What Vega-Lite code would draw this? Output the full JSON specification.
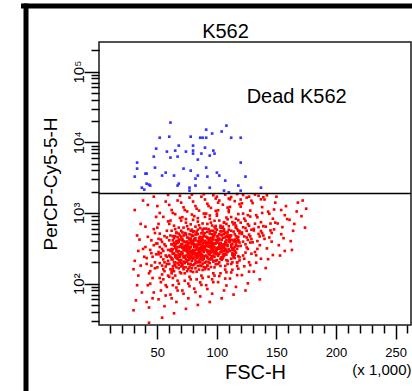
{
"$schema":"https://vega.github.io/schema/vega-lite/v6.json",
"width":312,"height":283,
"autosize":{"type":"none"},
"padding":{"left":99,"top":42,"right":1,"bottom":66},
"background":"white",
"config":{"view":{"stroke":"#1a1a1a","strokeWidth":1.5},"font":"Liberation Sans"},
"datasets":{
"live":[
{"fsc":31,"percp":210},{"fsc":33,"percp":95},{"fsc":35,"percp":420},{"fsc":30,"percp":160},{"fsc":38,"percp":310},{"fsc":32,"percp":58},{"fsc":36,"percp":700},{"fsc":34,"percp":130},{"fsc":39,"percp":240},{"fsc":31,"percp":1100},{"fsc":37,"percp":75},{"fsc":33,"percp":480},{"fsc":30,"percp":42},{"fsc":36,"percp":180},{"fsc":38,"percp":1500},{"fsc":34,"percp":290},
{"fsc":41,"percp":230},{"fsc":44,"percp":150},{"fsc":47,"percp":350},{"fsc":42,"percp":95},{"fsc":48,"percp":520},{"fsc":45,"percp":180},{"fsc":43,"percp":28},{"fsc":49,"percp":260},{"fsc":46,"percp":120},{"fsc":40,"percp":640},{"fsc":44,"percp":300},{"fsc":47,"percp":75},{"fsc":42,"percp":1300},{"fsc":48,"percp":200},{"fsc":45,"percp":410},{"fsc":41,"percp":55},{"fsc":49,"percp":880},{"fsc":46,"percp":240},{"fsc":43,"percp":140},{"fsc":47,"percp":1700},{"fsc":40,"percp":330},{"fsc":44,"percp":100},{"fsc":48,"percp":165},{"fsc":42,"percp":460},{"fsc":46,"percp":62},{"fsc":49,"percp":370},{"fsc":45,"percp":270},{"fsc":41,"percp":190},{"fsc":43,"percp":46},{"fsc":47,"percp":590},
{"fsc":51,"percp":260},{"fsc":54,"percp":180},{"fsc":57,"percp":340},{"fsc":52,"percp":120},{"fsc":58,"percp":450},{"fsc":55,"percp":220},{"fsc":53,"percp":80},{"fsc":59,"percp":300},{"fsc":56,"percp":150},{"fsc":50,"percp":620},{"fsc":54,"percp":390},{"fsc":57,"percp":95},{"fsc":52,"percp":1000},{"fsc":58,"percp":240},{"fsc":55,"percp":290},{"fsc":51,"percp":60},{"fsc":59,"percp":760},{"fsc":56,"percp":200},{"fsc":53,"percp":420},{"fsc":57,"percp":1450},{"fsc":50,"percp":170},{"fsc":54,"percp":135},{"fsc":58,"percp":560},{"fsc":52,"percp":330},{"fsc":56,"percp":48},{"fsc":59,"percp":210},{"fsc":55,"percp":880},{"fsc":51,"percp":280},{"fsc":53,"percp":105},{"fsc":57,"percp":250},{"fsc":50,"percp":370},{"fsc":54,"percp":33},{"fsc":58,"percp":190},{"fsc":52,"percp":510},{"fsc":56,"percp":360},{"fsc":59,"percp":130},{"fsc":55,"percp":160},{"fsc":51,"percp":700},{"fsc":53,"percp":240},{"fsc":57,"percp":68},{"fsc":50,"percp":1250},{"fsc":54,"percp":310},{"fsc":58,"percp":90},{"fsc":52,"percp":195},{"fsc":56,"percp":470},{"fsc":59,"percp":1800},{"fsc":55,"percp":115},{"fsc":51,"percp":430},{"fsc":53,"percp":270},{"fsc":57,"percp":175},
{"fsc":61,"percp":290},{"fsc":64,"percp":200},{"fsc":67,"percp":380},{"fsc":62,"percp":140},{"fsc":68,"percp":510},{"fsc":65,"percp":250},{"fsc":63,"percp":95},{"fsc":69,"percp":330},{"fsc":66,"percp":170},{"fsc":60,"percp":700},{"fsc":64,"percp":440},{"fsc":67,"percp":110},{"fsc":62,"percp":1100},{"fsc":68,"percp":260},{"fsc":65,"percp":320},{"fsc":61,"percp":70},{"fsc":69,"percp":850},{"fsc":66,"percp":230},{"fsc":63,"percp":470},{"fsc":67,"percp":1500},{"fsc":60,"percp":190},{"fsc":64,"percp":150},{"fsc":68,"percp":620},{"fsc":62,"percp":360},{"fsc":66,"percp":55},{"fsc":69,"percp":240},{"fsc":65,"percp":960},{"fsc":61,"percp":300},{"fsc":63,"percp":120},{"fsc":67,"percp":280},{"fsc":60,"percp":410},{"fsc":64,"percp":38},{"fsc":68,"percp":215},{"fsc":62,"percp":560},{"fsc":66,"percp":400},{"fsc":69,"percp":145},{"fsc":65,"percp":185},{"fsc":61,"percp":780},{"fsc":63,"percp":265},{"fsc":67,"percp":80},{"fsc":60,"percp":1300},{"fsc":64,"percp":345},{"fsc":68,"percp":100},{"fsc":62,"percp":220},{"fsc":66,"percp":530},{"fsc":69,"percp":1750},{"fsc":65,"percp":130},{"fsc":61,"percp":480},{"fsc":63,"percp":305},{"fsc":67,"percp":195},{"fsc":60,"percp":250},{"fsc":64,"percp":660},{"fsc":68,"percp":165},{"fsc":62,"percp":290},{"fsc":66,"percp":88},{"fsc":69,"percp":420},{"fsc":65,"percp":355},{"fsc":61,"percp":160},{"fsc":63,"percp":1000},{"fsc":67,"percp":230},{"fsc":60,"percp":125},{"fsc":64,"percp":270},{"fsc":68,"percp":390},{"fsc":62,"percp":62},{"fsc":66,"percp":310},{"fsc":69,"percp":205},{"fsc":65,"percp":590},{"fsc":61,"percp":240},{"fsc":63,"percp":175},{"fsc":67,"percp":455},
{"fsc":71,"percp":320},{"fsc":74,"percp":225},{"fsc":77,"percp":420},{"fsc":72,"percp":160},{"fsc":78,"percp":560},{"fsc":75,"percp":280},{"fsc":73,"percp":110},{"fsc":79,"percp":370},{"fsc":76,"percp":190},{"fsc":70,"percp":780},{"fsc":74,"percp":490},{"fsc":77,"percp":125},{"fsc":72,"percp":1200},{"fsc":78,"percp":290},{"fsc":75,"percp":355},{"fsc":71,"percp":80},{"fsc":79,"percp":950},{"fsc":76,"percp":260},{"fsc":73,"percp":520},{"fsc":77,"percp":1650},{"fsc":70,"percp":215},{"fsc":74,"percp":170},{"fsc":78,"percp":690},{"fsc":72,"percp":400},{"fsc":76,"percp":62},{"fsc":79,"percp":270},{"fsc":75,"percp":1050},{"fsc":71,"percp":335},{"fsc":73,"percp":140},{"fsc":77,"percp":310},{"fsc":70,"percp":460},{"fsc":74,"percp":44},{"fsc":78,"percp":240},{"fsc":72,"percp":620},{"fsc":76,"percp":445},{"fsc":79,"percp":165},{"fsc":75,"percp":205},{"fsc":71,"percp":870},{"fsc":73,"percp":295},{"fsc":77,"percp":92},{"fsc":70,"percp":1400},{"fsc":74,"percp":385},{"fsc":78,"percp":115},{"fsc":72,"percp":245},{"fsc":76,"percp":590},{"fsc":79,"percp":1820},{"fsc":75,"percp":150},{"fsc":71,"percp":530},{"fsc":73,"percp":340},{"fsc":77,"percp":220},{"fsc":70,"percp":280},{"fsc":74,"percp":730},{"fsc":78,"percp":185},{"fsc":72,"percp":325},{"fsc":76,"percp":100},{"fsc":79,"percp":470},{"fsc":75,"percp":395},{"fsc":71,"percp":180},{"fsc":73,"percp":1100},{"fsc":77,"percp":255},{"fsc":70,"percp":140},{"fsc":74,"percp":300},{"fsc":78,"percp":435},{"fsc":72,"percp":72},{"fsc":76,"percp":345},{"fsc":79,"percp":230},{"fsc":75,"percp":650},{"fsc":71,"percp":265},{"fsc":73,"percp":195},{"fsc":77,"percp":500},{"fsc":70,"percp":360},{"fsc":74,"percp":250},{"fsc":78,"percp":330},{"fsc":72,"percp":205},{"fsc":76,"percp":290},{"fsc":79,"percp":580},{"fsc":75,"percp":310},{"fsc":71,"percp":410},{"fsc":73,"percp":235},{"fsc":77,"percp":375},{"fsc":70,"percp":175},{"fsc":74,"percp":820},{"fsc":78,"percp":150},{"fsc":72,"percp":480},{"fsc":76,"percp":215},
{"fsc":81,"percp":330},{"fsc":84,"percp":235},{"fsc":87,"percp":430},{"fsc":82,"percp":165},{"fsc":88,"percp":580},{"fsc":85,"percp":290},{"fsc":83,"percp":115},{"fsc":89,"percp":380},{"fsc":86,"percp":200},{"fsc":80,"percp":800},{"fsc":84,"percp":505},{"fsc":87,"percp":130},{"fsc":82,"percp":1250},{"fsc":88,"percp":300},{"fsc":85,"percp":365},{"fsc":81,"percp":85},{"fsc":89,"percp":980},{"fsc":86,"percp":270},{"fsc":83,"percp":540},{"fsc":87,"percp":1700},{"fsc":80,"percp":225},{"fsc":84,"percp":178},{"fsc":88,"percp":710},{"fsc":82,"percp":410},{"fsc":86,"percp":66},{"fsc":89,"percp":280},{"fsc":85,"percp":1080},{"fsc":81,"percp":345},{"fsc":83,"percp":148},{"fsc":87,"percp":320},{"fsc":80,"percp":475},{"fsc":84,"percp":50},{"fsc":88,"percp":250},{"fsc":82,"percp":640},{"fsc":86,"percp":460},{"fsc":89,"percp":172},{"fsc":85,"percp":212},{"fsc":81,"percp":900},{"fsc":83,"percp":305},{"fsc":87,"percp":96},{"fsc":80,"percp":1450},{"fsc":84,"percp":398},{"fsc":88,"percp":120},{"fsc":82,"percp":255},{"fsc":86,"percp":610},{"fsc":89,"percp":1840},{"fsc":85,"percp":158},{"fsc":81,"percp":550},{"fsc":83,"percp":352},{"fsc":87,"percp":230},{"fsc":80,"percp":290},{"fsc":84,"percp":755},{"fsc":88,"percp":192},{"fsc":82,"percp":338},{"fsc":86,"percp":104},{"fsc":89,"percp":485},{"fsc":85,"percp":408},{"fsc":81,"percp":188},{"fsc":83,"percp":1150},{"fsc":87,"percp":265},{"fsc":80,"percp":146},{"fsc":84,"percp":312},{"fsc":88,"percp":450},{"fsc":82,"percp":76},{"fsc":86,"percp":358},{"fsc":89,"percp":240},{"fsc":85,"percp":670},{"fsc":81,"percp":275},{"fsc":83,"percp":203},{"fsc":87,"percp":515},{"fsc":80,"percp":372},{"fsc":84,"percp":262},{"fsc":88,"percp":342},{"fsc":82,"percp":213},{"fsc":86,"percp":300},{"fsc":89,"percp":600},{"fsc":85,"percp":322},{"fsc":81,"percp":425},{"fsc":83,"percp":244},{"fsc":87,"percp":388},{"fsc":80,"percp":182},{"fsc":84,"percp":845},{"fsc":88,"percp":156},{"fsc":82,"percp":495},{"fsc":86,"percp":222},{"fsc":85,"percp":280},{"fsc":83,"percp":330},{"fsc":87,"percp":178},{"fsc":81,"percp":360},{"fsc":89,"percp":318},
{"fsc":91,"percp":360},{"fsc":94,"percp":255},{"fsc":97,"percp":470},{"fsc":92,"percp":180},{"fsc":98,"percp":630},{"fsc":95,"percp":320},{"fsc":93,"percp":125},{"fsc":99,"percp":415},{"fsc":96,"percp":220},{"fsc":90,"percp":880},{"fsc":94,"percp":550},{"fsc":97,"percp":140},{"fsc":92,"percp":1350},{"fsc":98,"percp":330},{"fsc":95,"percp":400},{"fsc":91,"percp":95},{"fsc":99,"percp":1070},{"fsc":96,"percp":295},{"fsc":93,"percp":590},{"fsc":97,"percp":1780},{"fsc":90,"percp":245},{"fsc":94,"percp":195},{"fsc":98,"percp":775},{"fsc":92,"percp":450},{"fsc":96,"percp":72},{"fsc":99,"percp":305},{"fsc":95,"percp":1180},{"fsc":91,"percp":378},{"fsc":93,"percp":160},{"fsc":97,"percp":350},{"fsc":90,"percp":520},{"fsc":94,"percp":55},{"fsc":98,"percp":272},{"fsc":92,"percp":700},{"fsc":96,"percp":500},{"fsc":99,"percp":188},{"fsc":95,"percp":232},{"fsc":91,"percp":980},{"fsc":93,"percp":332},{"fsc":97,"percp":105},{"fsc":90,"percp":1550},{"fsc":94,"percp":435},{"fsc":98,"percp":130},{"fsc":92,"percp":280},{"fsc":96,"percp":665},{"fsc":99,"percp":1600},{"fsc":95,"percp":172},{"fsc":91,"percp":600},{"fsc":93,"percp":385},{"fsc":97,"percp":250},{"fsc":90,"percp":318},{"fsc":94,"percp":825},{"fsc":98,"percp":210},{"fsc":92,"percp":368},{"fsc":96,"percp":115},{"fsc":99,"percp":530},{"fsc":95,"percp":445},{"fsc":91,"percp":205},{"fsc":93,"percp":1250},{"fsc":97,"percp":290},{"fsc":90,"percp":160},{"fsc":94,"percp":340},{"fsc":98,"percp":492},{"fsc":92,"percp":84},{"fsc":96,"percp":390},{"fsc":99,"percp":262},{"fsc":95,"percp":730},{"fsc":91,"percp":300},{"fsc":93,"percp":222},{"fsc":97,"percp":560},{"fsc":90,"percp":405},{"fsc":94,"percp":286},{"fsc":98,"percp":372},{"fsc":92,"percp":232},{"fsc":96,"percp":328},{"fsc":99,"percp":655},{"fsc":95,"percp":350},{"fsc":91,"percp":462},{"fsc":93,"percp":266},{"fsc":97,"percp":422},{"fsc":90,"percp":198},{"fsc":94,"percp":920},{"fsc":98,"percp":170},{"fsc":92,"percp":540},{"fsc":96,"percp":242},
{"fsc":101,"percp":400},{"fsc":104,"percp":285},{"fsc":107,"percp":525},{"fsc":102,"percp":200},{"fsc":108,"percp":700},{"fsc":105,"percp":355},{"fsc":103,"percp":140},{"fsc":109,"percp":460},{"fsc":106,"percp":245},{"fsc":100,"percp":980},{"fsc":104,"percp":615},{"fsc":107,"percp":158},{"fsc":102,"percp":1500},{"fsc":108,"percp":370},{"fsc":105,"percp":445},{"fsc":101,"percp":105},{"fsc":109,"percp":1190},{"fsc":106,"percp":330},{"fsc":103,"percp":660},{"fsc":107,"percp":1820},{"fsc":100,"percp":272},{"fsc":104,"percp":218},{"fsc":108,"percp":860},{"fsc":102,"percp":500},{"fsc":106,"percp":80},{"fsc":109,"percp":340},{"fsc":105,"percp":1310},{"fsc":101,"percp":420},{"fsc":103,"percp":178},{"fsc":107,"percp":392},{"fsc":100,"percp":580},{"fsc":104,"percp":62},{"fsc":108,"percp":302},{"fsc":102,"percp":780},{"fsc":106,"percp":555},{"fsc":109,"percp":210},{"fsc":105,"percp":258},{"fsc":101,"percp":1090},{"fsc":103,"percp":370},{"fsc":107,"percp":118},{"fsc":100,"percp":1700},{"fsc":104,"percp":485},{"fsc":108,"percp":145},{"fsc":102,"percp":312},{"fsc":106,"percp":740},{"fsc":109,"percp":190},{"fsc":105,"percp":640},{"fsc":101,"percp":428},{"fsc":103,"percp":280},{"fsc":107,"percp":354},{"fsc":100,"percp":915},{"fsc":104,"percp":234},{"fsc":108,"percp":410},{"fsc":102,"percp":128},{"fsc":106,"percp":590},{"fsc":109,"percp":495},{"fsc":105,"percp":228},{"fsc":101,"percp":1400},{"fsc":103,"percp":322},{"fsc":107,"percp":178},{"fsc":100,"percp":380},{"fsc":104,"percp":548},{"fsc":108,"percp":94},{"fsc":102,"percp":434},{"fsc":106,"percp":292},{"fsc":109,"percp":812},{"fsc":105,"percp":334},{"fsc":101,"percp":248},{"fsc":103,"percp":622},{"fsc":107,"percp":450},{"fsc":100,"percp":318},{"fsc":104,"percp":414},{"fsc":108,"percp":258},{"fsc":102,"percp":365},{"fsc":106,"percp":728},
{"fsc":111,"percp":450},{"fsc":114,"percp":320},{"fsc":117,"percp":590},{"fsc":112,"percp":225},{"fsc":118,"percp":790},{"fsc":115,"percp":400},{"fsc":113,"percp":157},{"fsc":119,"percp":515},{"fsc":116,"percp":275},{"fsc":110,"percp":1100},{"fsc":114,"percp":690},{"fsc":117,"percp":178},{"fsc":112,"percp":1680},{"fsc":118,"percp":415},{"fsc":115,"percp":500},{"fsc":111,"percp":118},{"fsc":119,"percp":1330},{"fsc":116,"percp":370},{"fsc":113,"percp":740},{"fsc":117,"percp":1850},{"fsc":110,"percp":305},{"fsc":114,"percp":245},{"fsc":118,"percp":965},{"fsc":112,"percp":560},{"fsc":116,"percp":90},{"fsc":119,"percp":382},{"fsc":115,"percp":1470},{"fsc":111,"percp":472},{"fsc":113,"percp":200},{"fsc":117,"percp":440},{"fsc":110,"percp":650},{"fsc":114,"percp":70},{"fsc":118,"percp":340},{"fsc":112,"percp":875},{"fsc":116,"percp":620},{"fsc":119,"percp":236},{"fsc":115,"percp":290},{"fsc":111,"percp":1220},{"fsc":113,"percp":415},{"fsc":117,"percp":132},{"fsc":110,"percp":1600},{"fsc":114,"percp":545},{"fsc":118,"percp":163},{"fsc":112,"percp":350},{"fsc":116,"percp":830},{"fsc":119,"percp":213},{"fsc":115,"percp":720},{"fsc":111,"percp":480},{"fsc":113,"percp":315},{"fsc":117,"percp":398},{"fsc":110,"percp":1030},{"fsc":114,"percp":262},{"fsc":118,"percp":460},{"fsc":112,"percp":144},{"fsc":116,"percp":662},{"fsc":119,"percp":556},{"fsc":115,"percp":256},{"fsc":111,"percp":1560},{"fsc":113,"percp":362},{"fsc":117,"percp":200},
{"fsc":121,"percp":505},{"fsc":124,"percp":360},{"fsc":127,"percp":660},{"fsc":122,"percp":250},{"fsc":128,"percp":890},{"fsc":125,"percp":450},{"fsc":123,"percp":176},{"fsc":129,"percp":580},{"fsc":126,"percp":310},{"fsc":120,"percp":1230},{"fsc":124,"percp":775},{"fsc":127,"percp":200},{"fsc":122,"percp":1800},{"fsc":128,"percp":466},{"fsc":125,"percp":560},{"fsc":121,"percp":132},{"fsc":129,"percp":1490},{"fsc":126,"percp":415},{"fsc":123,"percp":830},{"fsc":127,"percp":1700},{"fsc":120,"percp":342},{"fsc":124,"percp":275},{"fsc":128,"percp":1080},{"fsc":122,"percp":628},{"fsc":126,"percp":101},{"fsc":129,"percp":428},{"fsc":125,"percp":1650},{"fsc":121,"percp":530},{"fsc":123,"percp":225},{"fsc":127,"percp":494},{"fsc":120,"percp":730},{"fsc":124,"percp":80},{"fsc":128,"percp":382},{"fsc":122,"percp":980},{"fsc":126,"percp":696},{"fsc":129,"percp":265},{"fsc":125,"percp":325},{"fsc":121,"percp":1370},{"fsc":123,"percp":466},{"fsc":127,"percp":148},{"fsc":120,"percp":1550},{"fsc":124,"percp":612},{"fsc":128,"percp":183},{"fsc":122,"percp":393},{"fsc":126,"percp":930},
{"fsc":131,"percp":565},{"fsc":134,"percp":400},{"fsc":137,"percp":740},{"fsc":132,"percp":280},{"fsc":138,"percp":1000},{"fsc":135,"percp":505},{"fsc":133,"percp":198},{"fsc":139,"percp":650},{"fsc":136,"percp":350},{"fsc":130,"percp":1380},{"fsc":134,"percp":870},{"fsc":137,"percp":225},{"fsc":132,"percp":1820},{"fsc":138,"percp":520},{"fsc":135,"percp":630},{"fsc":131,"percp":148},{"fsc":139,"percp":1670},{"fsc":136,"percp":465},{"fsc":133,"percp":930},{"fsc":137,"percp":1560},{"fsc":130,"percp":384},{"fsc":134,"percp":310},{"fsc":138,"percp":1210},{"fsc":132,"percp":705},{"fsc":136,"percp":115},{"fsc":139,"percp":480},{"fsc":135,"percp":1750},{"fsc":131,"percp":595},{"fsc":133,"percp":252},{"fsc":137,"percp":555},
{"fsc":141,"percp":640},{"fsc":144,"percp":450},{"fsc":147,"percp":830},{"fsc":142,"percp":315},{"fsc":148,"percp":1120},{"fsc":145,"percp":566},{"fsc":143,"percp":222},{"fsc":149,"percp":730},{"fsc":146,"percp":393},{"fsc":140,"percp":1550},{"fsc":144,"percp":975},{"fsc":147,"percp":254},{"fsc":142,"percp":1780},{"fsc":148,"percp":585},{"fsc":145,"percp":708},{"fsc":141,"percp":166},{"fsc":149,"percp":1400},{"fsc":146,"percp":522},{"fsc":143,"percp":1045},{"fsc":140,"percp":430},
{"fsc":151,"percp":710},{"fsc":154,"percp":500},{"fsc":157,"percp":930},{"fsc":152,"percp":350},{"fsc":158,"percp":1250},{"fsc":155,"percp":630},{"fsc":153,"percp":250},{"fsc":159,"percp":820},{"fsc":156,"percp":440},{"fsc":150,"percp":1700},{"fsc":154,"percp":1100},{"fsc":157,"percp":290},
{"fsc":161,"percp":800},{"fsc":164,"percp":560},{"fsc":167,"percp":1050},{"fsc":162,"percp":400},{"fsc":168,"percp":1400},{"fsc":165,"percp":700},{"fsc":163,"percp":300},
{"fsc":171,"percp":900},{"fsc":174,"percp":620},{"fsc":172,"percp":1500},{"fsc":175,"percp":1150},
{"fsc":62,"percp":310},{"fsc":65,"percp":240},{"fsc":68,"percp":420},{"fsc":71,"percp":190},{"fsc":74,"percp":350},{"fsc":63,"percp":270},{"fsc":66,"percp":520},{"fsc":69,"percp":215},{"fsc":72,"percp":300},{"fsc":75,"percp":450},{"fsc":64,"percp":180},{"fsc":67,"percp":330},{"fsc":70,"percp":260},{"fsc":73,"percp":390},{"fsc":62,"percp":230},{"fsc":65,"percp":470},{"fsc":68,"percp":290},{"fsc":71,"percp":365},{"fsc":74,"percp":205},{"fsc":63,"percp":410},{"fsc":66,"percp":250},{"fsc":69,"percp":340},{"fsc":72,"percp":170},{"fsc":75,"percp":280},{"fsc":64,"percp":380},{"fsc":67,"percp":225},{"fsc":70,"percp":560},{"fsc":73,"percp":240},{"fsc":62,"percp":360},{"fsc":65,"percp":200},{"fsc":68,"percp":250},{"fsc":71,"percp":430},{"fsc":74,"percp":300},{"fsc":63,"percp":160},{"fsc":66,"percp":290},{"fsc":69,"percp":480},{"fsc":72,"percp":235},{"fsc":75,"percp":330},{"fsc":64,"percp":265},{"fsc":67,"percp":400},{"fsc":70,"percp":195},{"fsc":73,"percp":320},{"fsc":62,"percp":150},{"fsc":65,"percp":345},{"fsc":68,"percp":185},{"fsc":71,"percp":275},{"fsc":74,"percp":510},{"fsc":63,"percp":220},{"fsc":66,"percp":370},{"fsc":69,"percp":255},
{"fsc":76,"percp":320},{"fsc":79,"percp":250},{"fsc":82,"percp":440},{"fsc":85,"percp":205},{"fsc":88,"percp":360},{"fsc":77,"percp":280},{"fsc":80,"percp":540},{"fsc":83,"percp":230},{"fsc":86,"percp":310},{"fsc":89,"percp":470},{"fsc":78,"percp":190},{"fsc":81,"percp":345},{"fsc":84,"percp":270},{"fsc":87,"percp":400},{"fsc":76,"percp":240},{"fsc":79,"percp":490},{"fsc":82,"percp":300},{"fsc":85,"percp":380},{"fsc":88,"percp":215},{"fsc":77,"percp":425},{"fsc":80,"percp":260},{"fsc":83,"percp":355},{"fsc":86,"percp":180},{"fsc":89,"percp":290},{"fsc":78,"percp":395},{"fsc":81,"percp":235},{"fsc":84,"percp":580},{"fsc":87,"percp":250},{"fsc":76,"percp":375},{"fsc":79,"percp":210},{"fsc":82,"percp":265},{"fsc":85,"percp":445},{"fsc":88,"percp":315},{"fsc":77,"percp":170},{"fsc":80,"percp":300},{"fsc":83,"percp":500},{"fsc":86,"percp":245},{"fsc":89,"percp":340},{"fsc":78,"percp":275},{"fsc":81,"percp":415},{"fsc":84,"percp":200},{"fsc":87,"percp":330},{"fsc":76,"percp":160},{"fsc":79,"percp":360},{"fsc":82,"percp":195},{"fsc":85,"percp":285},{"fsc":88,"percp":530},{"fsc":77,"percp":230},{"fsc":80,"percp":385},{"fsc":83,"percp":265},{"fsc":86,"percp":455},{"fsc":89,"percp":225},{"fsc":78,"percp":330},{"fsc":81,"percp":285},{"fsc":84,"percp":355},{"fsc":87,"percp":295},{"fsc":79,"percp":405},{"fsc":82,"percp":340},{"fsc":85,"percp":250},{"fsc":88,"percp":410},
{"fsc":91,"percp":340},{"fsc":94,"percp":265},{"fsc":97,"percp":460},{"fsc":100,"percp":215},{"fsc":103,"percp":375},{"fsc":92,"percp":295},{"fsc":95,"percp":560},{"fsc":98,"percp":240},{"fsc":101,"percp":325},{"fsc":104,"percp":490},{"fsc":93,"percp":200},{"fsc":96,"percp":360},{"fsc":99,"percp":285},{"fsc":102,"percp":420},{"fsc":91,"percp":250},{"fsc":94,"percp":510},{"fsc":97,"percp":315},{"fsc":100,"percp":395},{"fsc":103,"percp":225},{"fsc":92,"percp":440},{"fsc":95,"percp":275},{"fsc":98,"percp":370},{"fsc":101,"percp":190},{"fsc":104,"percp":305},{"fsc":93,"percp":410},{"fsc":96,"percp":245},{"fsc":99,"percp":600},{"fsc":102,"percp":265},{"fsc":91,"percp":390},{"fsc":94,"percp":220},{"fsc":97,"percp":280},{"fsc":100,"percp":465},{"fsc":103,"percp":330},{"fsc":92,"percp":180},{"fsc":95,"percp":315},{"fsc":98,"percp":520},{"fsc":101,"percp":255},{"fsc":104,"percp":355},{"fsc":93,"percp":290},{"fsc":96,"percp":430},{"fsc":99,"percp":210},{"fsc":102,"percp":345},{"fsc":91,"percp":170},{"fsc":94,"percp":375},{"fsc":97,"percp":205},{"fsc":100,"percp":300},{"fsc":103,"percp":550},{"fsc":92,"percp":240},{"fsc":95,"percp":400},{"fsc":98,"percp":280},{"fsc":101,"percp":475},{"fsc":104,"percp":235},{"fsc":93,"percp":345},{"fsc":96,"percp":300},{"fsc":99,"percp":370},
{"fsc":106,"percp":360},{"fsc":109,"percp":280},{"fsc":112,"percp":480},{"fsc":115,"percp":230},{"fsc":118,"percp":400},{"fsc":107,"percp":310},{"fsc":110,"percp":580},{"fsc":113,"percp":255},{"fsc":116,"percp":345},{"fsc":107,"percp":520},{"fsc":108,"percp":215},{"fsc":111,"percp":385},{"fsc":114,"percp":300},{"fsc":117,"percp":445},{"fsc":106,"percp":265},{"fsc":109,"percp":540},{"fsc":112,"percp":330},{"fsc":115,"percp":420},{"fsc":118,"percp":245},{"fsc":108,"percp":465},{"fsc":111,"percp":290},{"fsc":114,"percp":395},{"fsc":117,"percp":200},{"fsc":106,"percp":320},{"fsc":110,"percp":430},{"fsc":113,"percp":270},{"fsc":116,"percp":630},{"fsc":108,"percp":285},{"fsc":111,"percp":410},{"fsc":114,"percp":235},{"fsc":117,"percp":310},{"fsc":106,"percp":500},{"fsc":109,"percp":350},{"fsc":112,"percp":190},{"fsc":115,"percp":330},{"fsc":118,"percp":560},{"fsc":107,"percp":260},{"fsc":110,"percp":395},{"fsc":113,"percp":300},{"fsc":116,"percp":470}
],
"dead":[
{"fsc":61,"percp":19000},{"fsc":108,"percp":17200},{"fsc":91,"percp":15100},{"fsc":104,"percp":14200},{"fsc":96,"percp":13300},{"fsc":52,"percp":11600},{"fsc":60,"percp":12000},{"fsc":78,"percp":12000},{"fsc":86,"percp":11600},{"fsc":88,"percp":11600},{"fsc":91,"percp":11600},{"fsc":112,"percp":11600},{"fsc":120,"percp":11600},{"fsc":68,"percp":8970},{"fsc":80,"percp":8970},{"fsc":49,"percp":8130},{"fsc":90,"percp":8400},{"fsc":65,"percp":7620},{"fsc":80,"percp":7620},{"fsc":97,"percp":7620},{"fsc":58,"percp":7380},{"fsc":74,"percp":7380},{"fsc":80,"percp":6920},{"fsc":87,"percp":6920},{"fsc":98,"percp":6920},{"fsc":94,"percp":6480},{"fsc":47,"percp":6270},{"fsc":61,"percp":6070},{"fsc":67,"percp":6270},{"fsc":84,"percp":5690},{"fsc":33,"percp":5160},{"fsc":120,"percp":5160},{"fsc":48,"percp":4380},{"fsc":91,"percp":4380},{"fsc":72,"percp":4240},{"fsc":78,"percp":3970},{"fsc":57,"percp":3720},{"fsc":33,"percp":4240},{"fsc":100,"percp":3720},{"fsc":40,"percp":3600},{"fsc":41,"percp":3600},{"fsc":54,"percp":3380},{"fsc":64,"percp":3380},{"fsc":84,"percp":3380},{"fsc":102,"percp":3380},{"fsc":92,"percp":3270},{"fsc":31,"percp":3270},{"fsc":124,"percp":3270},{"fsc":82,"percp":3060},{"fsc":107,"percp":2870},{"fsc":68,"percp":2600},{"fsc":41,"percp":2600},{"fsc":43,"percp":2520},{"fsc":44,"percp":2440},{"fsc":67,"percp":2440},{"fsc":82,"percp":2440},{"fsc":94,"percp":2280},{"fsc":118,"percp":2440},{"fsc":137,"percp":2280},{"fsc":37,"percp":2280},{"fsc":39,"percp":2140},{"fsc":77,"percp":2280},{"fsc":77,"percp":2070},{"fsc":106,"percp":2070},{"fsc":120,"percp":2070},{"fsc":110,"percp":1960}
],
"gate":[{"percp":1880}],
"notes":[{"fsc":125,"percp":36400,"label":"Dead K562"}]
},
"layer":[
{"data":{"name":"live"},"mark":{"type":"square","size":7,"color":"#ff0000","opacity":1},
"encoding":{
"x":{"field":"fsc","type":"quantitative","scale":{"domain":[1,263],"nice":false,"zero":false},
"axis":{"values":[10,20,30,40,50,60,70,80,90,100,110,120,130,140,150,160,170,180,190,200,210,220,230,240,250,260],
"labelExpr":"datum.value % 50 == 0 ? datum.label : ''","labelOverlap":false,"labelFlush":false,
"tickSize":{"condition":{"test":"datum.value % 50 == 0","value":14},"value":8},"tickColor":"black","tickWidth":1.5,
"domain":false,"grid":false,"labelFontSize":13,"labelColor":"black","labelPadding":7,
"title":"FSC-H","titleFontSize":20,"titleFontWeight":"normal","titleColor":"black","titlePadding":3}},
"y":{"field":"percp","type":"quantitative","scale":{"type":"log","domain":[26,262144],"nice":false},
"axis":{"values":[30,40,50,60,70,80,90,100,200,300,400,500,600,700,800,900,1000,2000,3000,4000,5000,6000,7000,8000,9000,10000,20000,30000,40000,50000,60000,70000,80000,90000,100000,200000],
"labelExpr":"datum.value == 100 ? '10²' : datum.value == 1000 ? '10³' : datum.value == 10000 ? '10⁴' : datum.value == 100000 ? '10⁵' : ''",
"labelOverlap":false,"labelFlush":false,"labelAngle":-90,"labelAlign":"center","labelBaseline":"alphabetic",
"tickSize":{"condition":{"test":"datum.value == 100 || datum.value == 1000 || datum.value == 10000 || datum.value == 100000","value":15},"value":8},
"tickColor":"black","tickWidth":1.5,"domain":false,"grid":false,"labelFontSize":15,"labelColor":"black","labelPadding":1,
"title":"PerCP-Cy5-5-H","titleFontSize":19,"titleFontWeight":"normal","titleColor":"black","titlePadding":11}}
}},
{"data":{"name":"dead"},"mark":{"type":"square","size":7,"color":"#3333ff","opacity":1},
"encoding":{"x":{"field":"fsc","type":"quantitative","scale":{"domain":[1,263],"nice":false,"zero":false},
"axis":{"orient":"top","labels":false,"ticks":false,"domain":false,"grid":false,"title":"K562","titleFontSize":20,"titleFontWeight":"normal","titleColor":"black","titlePadding":1,"titleX":126,"titleAlign":"center"}},
"y":{"field":"percp","type":"quantitative","scale":{"type":"log","domain":[26,262144],"nice":false},"axis":null}}},
{"data":{"name":"gate"},"mark":{"type":"rule","color":"black","strokeWidth":1.5},
"encoding":{"y":{"field":"percp","type":"quantitative","scale":{"type":"log","domain":[26,262144],"nice":false},"axis":null}}},
{"data":{"name":"notes"},"mark":{"type":"text","align":"left","baseline":"alphabetic","fontSize":20,"color":"black","font":"Liberation Sans"},
"encoding":{"x":{"field":"fsc","type":"quantitative","scale":{"domain":[1,263],"nice":false,"zero":false},
"axis":{"orient":"bottom","labels":false,"ticks":false,"domain":false,"grid":false,"title":"(x 1,000)","titleAnchor":"end","titleFontSize":15,"titleFontWeight":"normal","titleColor":"black","titlePadding":37}},
"y":{"field":"percp","type":"quantitative","scale":{"type":"log","domain":[26,262144],"nice":false},"axis":null},"text":{"field":"label"}}},
{"data":{"name":"notes"},"mark":{"type":"point","opacity":0},
"encoding":{"x":{"field":"fsc","type":"quantitative","scale":{"domain":[0,1],"range":[-78.5,330]},
"axis":{"orient":"top","offset":36.5,"domain":true,"domainColor":"black","domainWidth":5,"ticks":false,"labels":false,"grid":false,"title":null}},
"y":{"field":"percp","type":"quantitative","scale":{"domain":[0,1],"range":[360,-39]},
"axis":{"orient":"left","offset":73.5,"domain":true,"domainColor":"black","domainWidth":5,"ticks":false,"labels":false,"grid":false,"title":null}}}}
],
"resolve":{"scale":{"x":"independent","y":"independent"},"axis":{"x":"independent","y":"independent"}}
}
